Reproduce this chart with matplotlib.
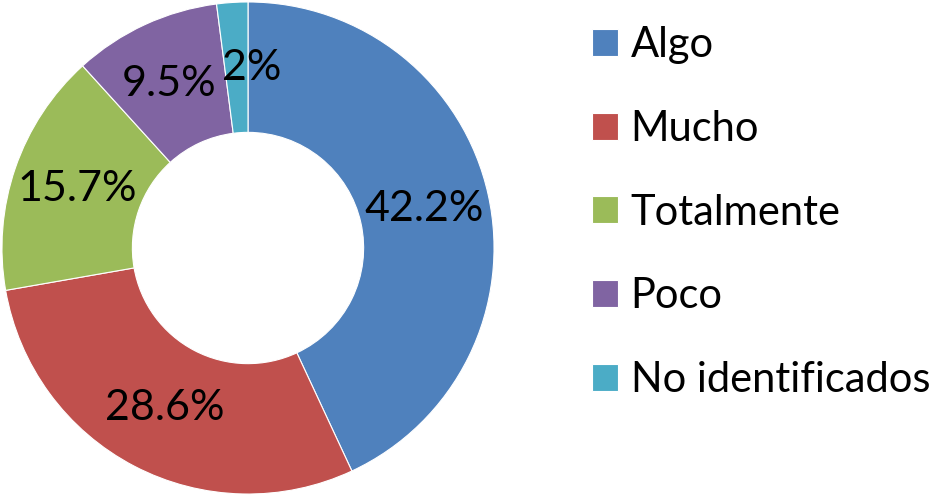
import numpy as np
import matplotlib
matplotlib.use("Agg")
import matplotlib.pyplot as plt

categorias = ["Algo", "Mucho", "Totalmente", "Poco", "No identificados"]
valores = [42.2, 28.6, 15.7, 9.5, 2]
etiquetas = ["42.2%", "28.6%", "15.7%", "9.5%", "2%"]
colores = ["#4F81BD", "#C0504D", "#9BBB59", "#8064A2", "#4BACC6"]

plt.rcParams['font.family'] = ['Lato', 'DejaVu Sans']
fs_lab = 31
fs_leg = 30

fig = plt.figure(figsize=(9.32, 4.96), dpi=100)
ax = fig.add_axes([0.0, 0.0, 496 / 932, 1.0])

wedges, _ = ax.pie(valores, colors=colores, startangle=90, counterclock=False,
                   radius=1.0, wedgeprops=dict(width=0.53, edgecolor='white', linewidth=0.8))

# etiquetas en el centro del anillo (las pequeñas algo desplazadas, como en Excel)
r_lab = 0.735
desplaz = [(0, 0), (0, 0), (0, 0), (-2, 0), (11, 0)]
for w, txt, d in zip(wedges, etiquetas, desplaz):
    ang = np.deg2rad((w.theta1 + w.theta2) / 2)
    ax.annotate(txt, (r_lab * np.cos(ang), r_lab * np.sin(ang)), xytext=d,
                textcoords='offset points', ha='center', va='center',
                fontsize=fs_lab, color='black')

ax.set_xlim(-1.008, 1.008)
ax.set_ylim(-1.008, 1.008)
ax.set_aspect('equal')
ax.axis('off')

leg = fig.legend(wedges, categorias, loc='upper left', bbox_to_anchor=(592 / 932, 1 - 26 / 496),
                 frameon=False, fontsize=fs_leg, handlelength=0.62, handleheight=0.62,
                 handletextpad=0.31, labelspacing=1.1, borderaxespad=0, borderpad=0)

fig.savefig("out.png", dpi=100)
